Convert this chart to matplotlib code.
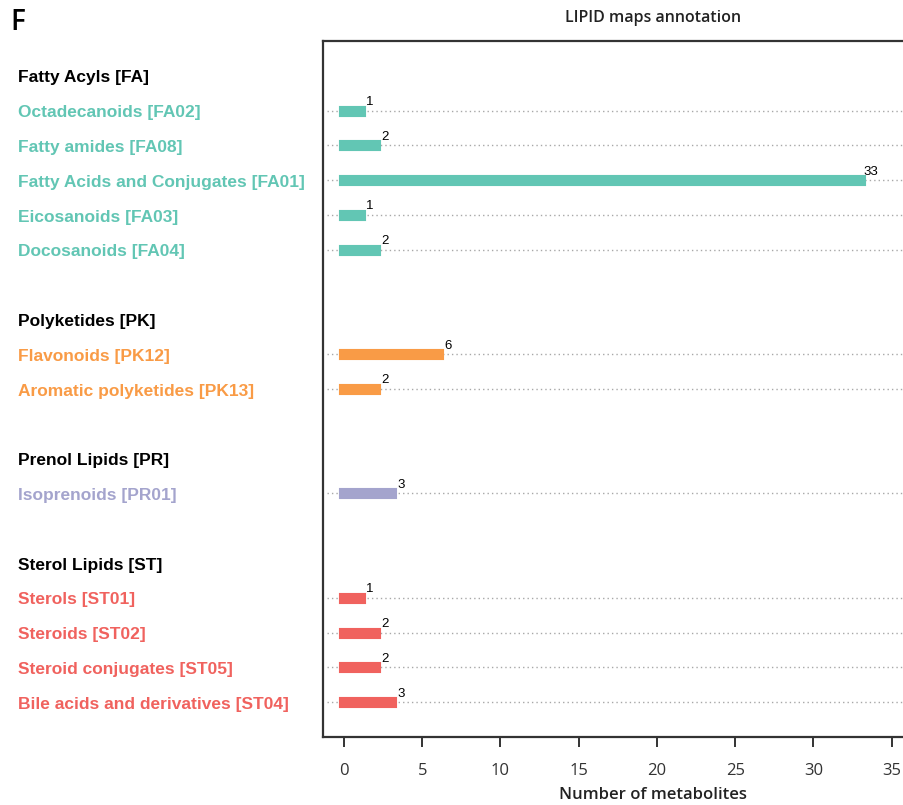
import matplotlib
matplotlib.use("Agg")
import matplotlib.pyplot as plt
import matplotlib.transforms as mtransforms

# ---- data ----
groups = ["Fatty Acyls [FA]", "Polyketides [PK]", "Prenol Lipids [PR]", "Sterol Lipids [ST]"]
fa_classes = ["Octadecanoids [FA02]", "Fatty amides [FA08]", "Fatty Acids and Conjugates [FA01]",
              "Eicosanoids [FA03]", "Docosanoids [FA04]"]
fa_counts = [1, 2, 33, 1, 2]
pk_classes = ["Flavonoids [PK12]", "Aromatic polyketides [PK13]"]
pk_counts = [6, 2]
pr_classes = ["Isoprenoids [PR01]"]
pr_counts = [3]
st_classes = ["Sterols [ST01]", "Steroids [ST02]", "Steroid conjugates [ST05]",
              "Bile acids and derivatives [ST04]"]
st_counts = [1, 2, 2, 3]
group_colors = ["#62C6B4", "#F99B46", "#A4A4CD", "#F0625E"]
x_ticks = [0, 5, 10, 15, 20, 25, 30, 35]

W, H = 904, 805
fig = plt.figure(figsize=(W / 100, H / 100), dpi=100)
ax_left, ax_top, ax_bottom = 323, 41, 737
ax_right = 923
ax = fig.add_axes([ax_left / W, 1 - ax_bottom / H, (ax_right - ax_left) / W, (ax_bottom - ax_top) / H])

xmin, xmax = -1.34, 37.0
ax.set_xlim(xmin, xmax)
ax.set_ylim(19, -1)

label_tr = mtransforms.blended_transform_factory(fig.transFigure, ax.transData)
label_font = ["Liberation Sans", "DejaVu Sans"]

row = 0
for gname, classes, counts, col in zip(groups,
                                        [fa_classes, pk_classes, pr_classes, st_classes],
                                        [fa_counts, pk_counts, pr_counts, st_counts],
                                        group_colors):
    ax.text(18 / W, row + 0.06, gname, transform=label_tr, ha="left", va="center",
            fontsize=12.5, fontweight="bold", color="black", family=label_font, clip_on=False)
    row += 1
    ys = list(range(row, row + len(classes)))
    ax.hlines(ys, -1.1, 40, colors="#A8A8A8", linestyles=(0, (1, 2.2)), linewidth=1.0, zorder=1)
    ax.hlines(ys, 0, counts, colors=col, linewidth=8.0, capstyle="projecting", zorder=3)
    for y, c, v in zip(ys, classes, counts):
        ax.text(18 / W, y + 0.06, c, transform=label_tr, ha="left", va="center",
                fontsize=12.5, fontweight="bold", color=col, family=label_font, clip_on=False)
        ax.text(v + 0.65, y - 0.16, str(v), ha="center", va="baseline", fontsize=9.5,
                family=label_font, color="black", zorder=4)
    row += len(classes) + 1

for s in ["left", "top", "bottom", "right"]:
    ax.spines[s].set_linewidth(1.6)
    ax.spines[s].set_color("#333333")

ax.set_yticks([])
ax.set_xticks(x_ticks)
ax.set_xticklabels([str(t) for t in x_ticks], family="Open Sans", fontsize=12, color="#333333")
ax.tick_params(axis="x", direction="out", length=7, width=1.4, color="#333333", pad=12)

fig.text(653 / W, 1 - 18 / H, "LIPID maps annotation", ha="center", va="center",
         family="Open Sans", fontweight="semibold", fontsize=11.5, color="#222222")
fig.text(653 / W, 1 - 795 / H, "Number of metabolites", ha="center", va="center",
         family="Open Sans", fontweight="semibold", fontsize=12, color="#222222")
fig.text(10 / W, 1 - 22 / H, "F", ha="left", va="center",
         family="Open Sans", fontweight="semibold", fontsize=20, color="black")

fig.savefig("out.png", dpi=100)
